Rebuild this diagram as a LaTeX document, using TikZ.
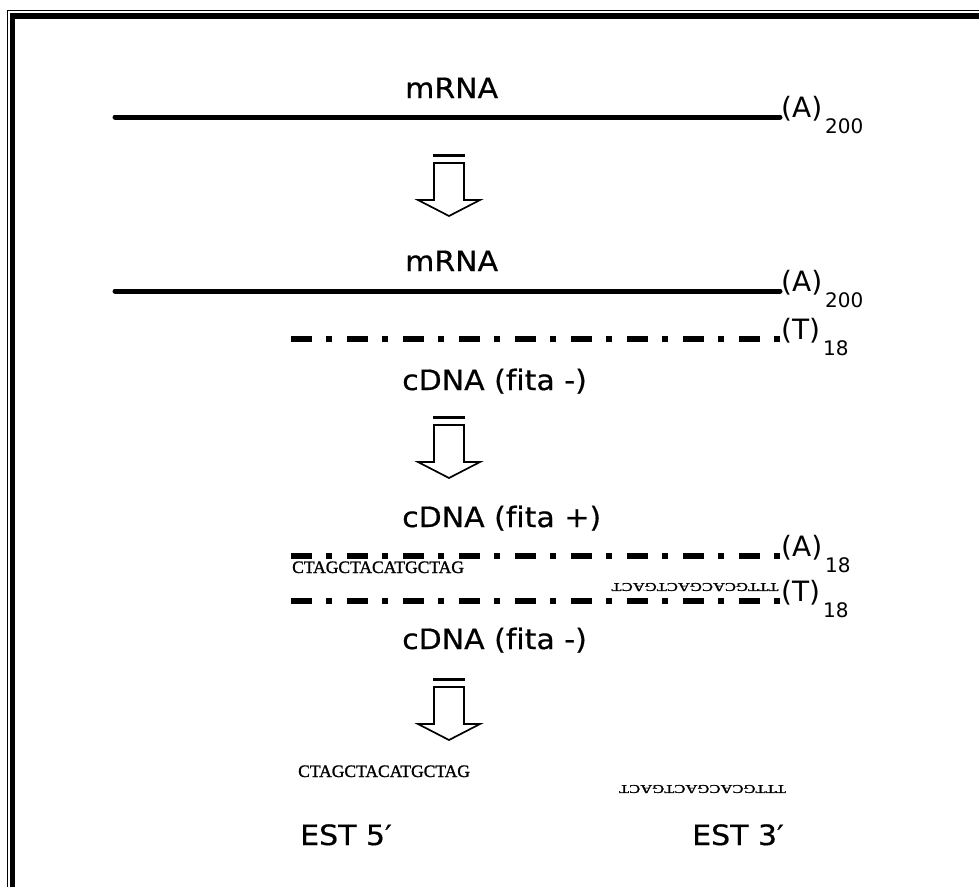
\documentclass[tikz,border=0pt]{standalone}
\usepackage{fontspec}
\setmainfont[Ligatures=NoCommon]{DejaVu Sans}
\newfontfamily\labelfont[Ligatures=NoCommon, FakeStretch=1.07, FakeBold=0.6]{DejaVu Sans}
\newfontfamily\seqfont[FakeBold=1.2]{Liberation Serif}
\usetikzlibrary{positioning}

\tikzset{
  strand/.style={line width=5pt, line cap=round},
  cstrand/.style={line width=6pt, dash pattern=on 21pt off 14pt on 6pt off 15pt},
  lbl/.style={inner sep=0pt, anchor=base west, font=\labelfont\fontsize{28}{32}\selectfont},
  endlbl/.style={inner sep=0pt, anchor=base west, xshift=1pt, font=\fontsize{28}{32}\selectfont},
  seq/.style={inner sep=0pt, font=\seqfont\fontsize{17.5}{20}\selectfont},
  seqrev/.style={seq, rotate=180, font=\seqfont\fontsize{16.6}{20}\selectfont},
  blockarrow/.style={line width=1.7pt, line join=miter},
}
\newcommand{\tailsub}[2]{(#1)\hspace{3pt}\raisebox{-16pt}{\fontsize{20}{20}\selectfont #2}}

\begin{document}
\begin{tikzpicture}[x=1pt, y=-1pt]
  \useasboundingbox (0,0) rectangle (979,886);

  %frame
  \begin{scope}
    \clip (0,0) rectangle (979,886);
    \draw [line width=1pt] (7,10.5) rectangle (1000,920);
    \draw [line width=5.5pt] (12.5,16) rectangle (1000,920);
  \end{scope}

  %strand end points
  \coordinate (m1a) at (115,117);
  \coordinate (m1b) at (780,117);
  \coordinate (m2a) at (115,291);
  \coordinate (m2b) at (780,291);
  \coordinate (c1a) at (291,339);
  \coordinate (c1b) at (780,339);
  \coordinate (c2a) at (291,556);
  \coordinate (c2b) at (780,556);
  \coordinate (c3a) at (291,601);
  \coordinate (c3b) at (780,601);

  %strands
  \draw [strand] (m1a) -- (m1b);
  \draw [strand] (m2a) -- (m2b);
  \draw [cstrand] (c1a) -- (c1b);
  \draw [cstrand] (c2a) -- (c2b);
  \draw [cstrand] (c3a) -- (c3b);

  \node [endlbl] (t1) at (m1b) {\tailsub{A}{200}};
  \node [endlbl] (t2) at (m2b) {\tailsub{A}{200}};
  \node [endlbl] (t3) at (c1b) {\tailsub{T}{18}};
  \node [endlbl] (t4) at (c2b) {\tailsub{A}{18}};
  \node [endlbl] (t5) at (c3b) {\tailsub{T}{18}};

  %labels
  \node [lbl] (mrna1) at (405,98) {mRNA};
  \node [lbl] (mrna2) at (405,271) {mRNA};
  \node [lbl] (cdna1) at (402,390) {cDNA (fita -)};
  \node [lbl] (cdna2) at (402,527) {cDNA (fita +)};
  \node [lbl] (cdna3) at (402,649) {cDNA (fita -)};
  \node [lbl] (est5) at (300,845) {EST 5′};
  \node [lbl] (est3) at (692,845) {EST 3′};

  %sequences
  \node [seq, anchor=base west] (s5a) at (292,573) {CTAGCTACATGCTAG};
  \node [seqrev] (s3a) at (695,587) {\scalebox{1}[0.72]{TTTGCACGACTGACT}};
  \node [seq, anchor=base west] (s5b) at (298,777) {CTAGCTACATGCTAG};
  \node [seqrev] (s3b) at (702.5,789) {\scalebox{1}[0.72]{TTTGCACGACTGACT}};

  %block arrows
  \foreach \y in {154,416,678} {
    \draw [blockarrow] (434,{\y+9}) -- (434,{\y+46}) -- (418,{\y+46}) -- (449,{\y+62})
      -- (480,{\y+46}) -- (464,{\y+46}) -- (464,{\y+9});
    \draw [line width=2.4pt] (433.2,{\y+1.5}) -- (464.8,{\y+1.5});
    \draw [line width=2.6pt] (433.2,{\y+9}) -- (464.8,{\y+9});
  }
\end{tikzpicture}
\end{document}
